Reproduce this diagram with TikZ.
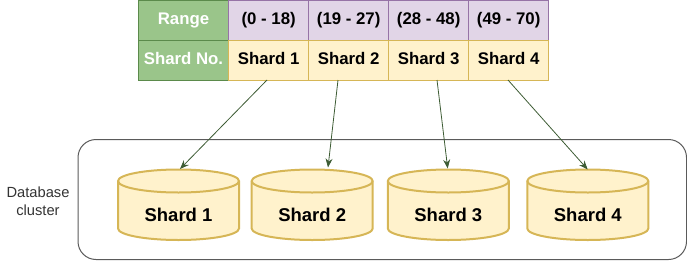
\documentclass[tikz,border=0pt]{standalone}
\usepackage{fontspec}
\setmainfont{Liberation Sans}
\usetikzlibrary{arrows.meta}
\definecolor{hdrfill}{HTML}{9AC58A}
\definecolor{hdrline}{HTML}{5B8A4B}
\definecolor{purfill}{HTML}{E1D5E7}
\definecolor{purline}{HTML}{9673A6}
\definecolor{yelfill}{HTML}{FFF2CC}
\definecolor{yelline}{HTML}{D6B656}
\definecolor{arrcol}{HTML}{3D5C34}
\definecolor{boxline}{HTML}{5A5A5A}
\tikzset{
  cellbase/.style={rectangle, inner sep=0pt, minimum height=40pt, text height=12pt, text depth=3.5pt, font=\fontsize{16.8}{18}\selectfont\bfseries, line width=0.8pt},
  hdrcell/.style={cellbase, fill=hdrfill, draw=hdrline, minimum width=90.5pt, text=white},
  rangecell/.style={cellbase, fill=purfill, draw=purline, minimum width=80pt},
  shardcell/.style={cellbase, fill=yelfill, draw=yelline, minimum width=80pt},
  cyltext/.style={font=\fontsize{18.5}{20}\selectfont\bfseries, text height=13pt, text depth=4pt},
  cylline/.style={draw=yelline, fill=yelfill, line width=2pt},
  conn/.style={draw=arrcol, line width=0.8pt, -{Stealth[length=9pt,width=7pt]}},
}
\begin{document}
\begin{tikzpicture}[x=1pt,y=-1pt]
\useasboundingbox (0,0) rectangle (687,273);
% cluster box
\draw[boxline, line width=1pt, rounded corners=18pt] (78,139.5) rectangle (686.5,259.5);
\node[align=center, font=\fontsize{14.7}{18}\selectfont, text=black!80] (lbl) at (38,201) {Database\\cluster};
% table
\node[hdrcell] (h1) at (183.5,20.5) {Range};
\node[hdrcell] (h2) at (183.5,60) {Shard No.};
\node[rangecell] (r1) at (268.7,20.5) {(0 - 18)};
\node[rangecell] (r2) at (348.7,20.5) {(19 - 27)};
\node[rangecell] (r3) at (428.7,20.5) {(28 - 48)};
\node[rangecell] (r4) at (508.7,20.5) {(49 - 70)};
\node[shardcell] (s1) at (268.7,60) {Shard 1};
\node[shardcell] (s2) at (348.7,60) {Shard 2};
\node[shardcell] (s3) at (428.7,60) {Shard 3};
\node[shardcell] (s4) at (508.7,60) {Shard 4};
% cylinders
\foreach \cx/\n in {178.5/1, 312.2/2, 448.3/3, 587.8/4}{
  \path[cylline] (\cx-60.5,181) -- (\cx-60.5,228.5) arc[start angle=180, end angle=360, x radius=60.5pt, y radius=11.5pt] -- (\cx+60.5,181) arc[start angle=0, end angle=180, x radius=60.5pt, y radius=11.5pt] -- cycle;
  \draw[yelline, line width=2pt] (\cx-60.5,181) arc[start angle=180, end angle=360, x radius=60.5pt, y radius=11.5pt];
  \node[cyltext] (d\n) at (\cx,216.5) {Shard \n};
}
% arrow endpoints
\coordinate (e1) at (180,169);
\coordinate (e2) at (328,167.5);
\coordinate (e3) at (447.7,168.5);
\coordinate (e4) at (587.7,169.5);
\coordinate (b1) at (267,80);
\coordinate (b2) at (338,80);
\coordinate (b3) at (437,80);
\coordinate (b4) at (508,80);
\draw[conn] (b1) -- (e1);
\draw[conn] (b2) -- (e2);
\draw[conn] (b3) -- (e3);
\draw[conn] (b4) -- (e4);
\end{tikzpicture}
\end{document}
